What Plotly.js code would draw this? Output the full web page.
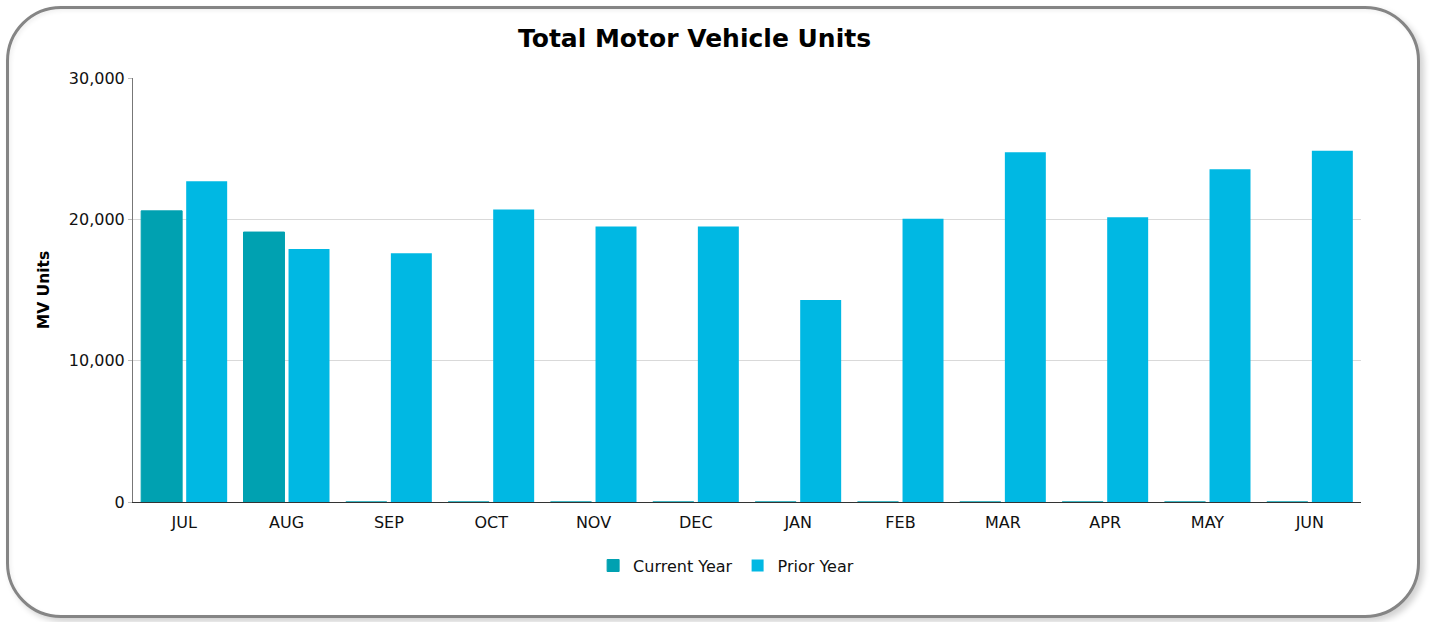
<!DOCTYPE html>
<html>
<head>
<meta charset="utf-8">
<script src="https://cdn.plot.ly/plotly-3.0.1.min.js"></script>
<style>
  html, body { margin: 0; padding: 0; background: #ffffff; }
  #frame {
    position: absolute; left: 6px; top: 6px; width: 1408px; height: 606px;
    border: 3px solid #858585; border-radius: 55px;
    box-shadow: 4px 4px 6px rgba(0,0,0,0.18), inset 2px 2px 4px rgba(0,0,0,0.06);
    background: #ffffff;
  }
  #chart { position: absolute; left: 0; top: 0; width: 1432px; height: 622px; }
</style>
</head>
<body>
<div id="frame"></div>
<div id="chart"></div>
<script>
const months = ["JUL","AUG","SEP","OCT","NOV","DEC","JAN","FEB","MAR","APR","MAY","JUN"];
const currentYear = [20600, 19100, 0, 0, 0, 0, 0, 0, 0, 0, 0, 0];
const priorYear = [22700, 17900, 17600, 20700, 19500, 19500, 14300, 20050, 24750, 20150, 23550, 24850];
const yTicks = [0, 10000, 20000, 30000];

const FONT = "DejaVu Sans, Verdana, Tahoma, sans-serif";
const TEAL = "#00A1B1";
const BLUE = "#00B8E3";

const traces = [
  {
    type: "bar", name: "Current Year", x: months, y: currentYear,
    marker: { color: TEAL, line: { color: TEAL, width: 1 } },
    hoverinfo: "x+y"
  },
  {
    type: "bar", name: "Prior Year", x: months, y: priorYear,
    marker: { color: BLUE, line: { width: 0 } },
    hoverinfo: "x+y"
  }
];

const layout = {
  width: 1432, height: 622,
  paper_bgcolor: "rgba(0,0,0,0)",
  plot_bgcolor: "rgba(0,0,0,0)",
  margin: { l: 133, r: 71, t: 78, b: 120 },
  font: { family: FONT, size: 16, color: "#111111" },
  title: {
    text: "<b>Total Motor Vehicle Units</b>",
    font: { family: FONT, size: 25, color: "#000000" },
    x: 0.485, xanchor: "center", y: 0.938, yanchor: "middle"
  },
  barmode: "group",
  bargap: 0.12,
  bargroupgap: 0.09,
  xaxis: {
    type: "category",
    showgrid: false,
    showline: true, linecolor: "#333333", linewidth: 1,
    ticks: "", ticklabelstandoff: 6,
    tickfont: { family: FONT, size: 16, color: "#111111" },
    zeroline: false
  },
  yaxis: {
    range: [0, 30000],
    tickvals: yTicks,
    tickformat: ",d",
    showgrid: true, gridcolor: "#d9d9d9", gridwidth: 1,
    showline: true, linecolor: "#777777", linewidth: 1,
    ticks: "outside", ticklen: 4, tickcolor: "#bbbbbb",
    tickfont: { family: FONT, size: 16, color: "#111111" },
    zeroline: false,
    title: { text: "<b>MV Units</b>", font: { family: FONT, size: 15.5, color: "#000000" }, standoff: 15 }
  },
  showlegend: true,
  legend: {
    orientation: "h",
    x: 0.483, xanchor: "center",
    y: -0.15, yanchor: "middle",
    font: { family: FONT, size: 16, color: "#111111" },
    itemwidth: 30,
    traceorder: "normal"
  }
};

Plotly.newPlot("chart", traces, layout, { displayModeBar: false, staticPlot: true });
</script>
</body>
</html>
